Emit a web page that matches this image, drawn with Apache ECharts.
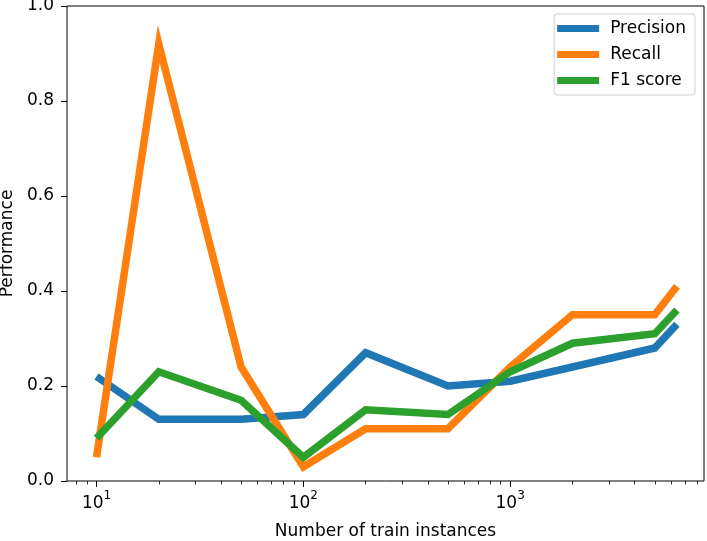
<!DOCTYPE html>
<html>
<head>
<meta charset="utf-8">
<script src="https://cdn.jsdelivr.net/npm/echarts@6/dist/echarts.min.js"></script>
<style>html,body{margin:0;padding:0;background:#fff}#c{width:707px;height:541px}</style>
</head>
<body>
<div id="c"></div>
<script>
const trainSizes = [10, 20, 50, 100, 200, 500, 1000, 2000, 5000, 6400];
const precision = [0.22, 0.13, 0.13, 0.14, 0.27, 0.20, 0.21, 0.24, 0.28, 0.33];
const recall    = [0.05, 0.92, 0.24, 0.03, 0.11, 0.11, 0.24, 0.35, 0.35, 0.41];
const f1score   = [0.09, 0.23, 0.17, 0.05, 0.15, 0.14, 0.23, 0.29, 0.31, 0.36];
const majorTicks = [10, 100, 1000];
const majorExp = ['1', '2', '3'];
const minorTicks = [8, 9, 20, 30, 40, 50, 60, 70, 80, 90, 200, 300, 400, 500, 600, 700, 800, 900, 2000, 3000, 4000, 5000, 6000, 7000, 8000];

const font = 'DejaVu Sans';
const FS = 17;
const pairs = ys => trainSizes.map((x, i) => [x, ys[i]]);
const xMin = 7.2, xMax = 8650;

const chart = echarts.init(document.getElementById('c'), null, {renderer: 'canvas'});
chart.setOption({
  animation: false,
  backgroundColor: '#fff',
  grid: {left: 67, right: 3, top: 6, bottom: 60, containLabel: false, outerBoundsMode: 'none',
    show: true, borderColor: '#000', borderWidth: 1, backgroundColor: 'transparent'},
  legend: {
    orient: 'vertical', right: 12, top: 14,
    icon: 'rect', itemWidth: 42, itemHeight: 7, itemGap: 9,
    padding: [6, 9, 6, 3],
    backgroundColor: 'rgba(255,255,255,0.8)', borderColor: '#d0d0d0', borderWidth: 1, borderRadius: 3,
    textStyle: {fontFamily: font, fontSize: FS, color: '#000', padding: [0, 0, 0, 6]},
    data: ['Precision', 'Recall', 'F1 score']
  },
  xAxis: [{
    type: 'log', logBase: 10, min: xMin, max: xMax,
    name: 'Number of train instances', nameLocation: 'middle', nameGap: 42,
    nameTextStyle: {fontFamily: font, fontSize: FS, color: '#000'},
    axisLine: {show: false},
    axisTick: {show: true, inside: false, length: 6, lineStyle: {color: '#000', width: 1}, customValues: majorTicks},
    axisLabel: {fontFamily: font, fontSize: FS, color: '#000', margin: 9, customValues: majorTicks,
      formatter: v => { const i = majorTicks.indexOf(Math.round(v)); return i >= 0 ? '{b|10}{s|' + majorExp[i] + '}' : ''; },
      rich: {
        b: {fontFamily: font, fontSize: FS, color: '#000', lineHeight: 22, verticalAlign: 'bottom'},
        s: {fontFamily: font, fontSize: 12, color: '#000', lineHeight: 12, verticalAlign: 'top'}
      }},
    splitLine: {show: false}, minorTick: {show: false}
  }, {
    type: 'log', logBase: 10, min: xMin, max: xMax, position: 'bottom',
    axisLine: {show: false},
    axisTick: {show: true, length: 3.5, lineStyle: {color: '#000', width: 0.8}, customValues: minorTicks},
    axisLabel: {show: false},
    splitLine: {show: false}
  }],
  yAxis: {
    type: 'value', min: 0, max: 1, interval: 0.2,
    name: 'Performance', nameLocation: 'middle', nameGap: 48, nameRotate: 90,
    nameTextStyle: {fontFamily: font, fontSize: FS, color: '#000'},
    axisLine: {show: false},
    axisTick: {show: true, length: 6, lineStyle: {color: '#000', width: 1}},
    axisLabel: {fontFamily: font, fontSize: FS, color: '#000', margin: 13, formatter: v => v.toFixed(1)},
    splitLine: {show: false}
  },
  series: [
    {name: 'Precision', type: 'line', data: pairs(precision), showSymbol: false, symbol: 'none', color: '#1f77b4', lineStyle: {width: 7.5, color: '#1f77b4', cap: 'butt', join: 'miter'}},
    {name: 'Recall', type: 'line', data: pairs(recall), showSymbol: false, symbol: 'none', color: '#ff7f0e', lineStyle: {width: 7.5, color: '#ff7f0e', cap: 'butt', join: 'miter'}},
    {name: 'F1 score', type: 'line', data: pairs(f1score), showSymbol: false, symbol: 'none', color: '#2ca02c', lineStyle: {width: 7.5, color: '#2ca02c', cap: 'butt', join: 'miter'}}
  ]
});
</script>
</body>
</html>
